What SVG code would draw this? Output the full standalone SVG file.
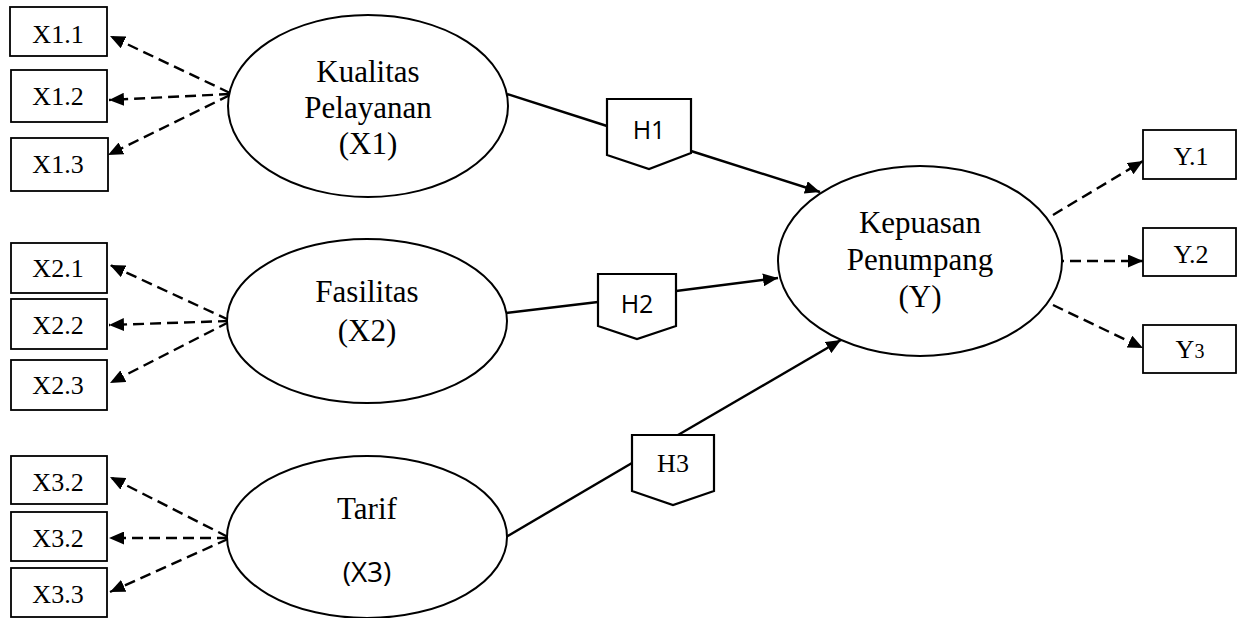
<svg xmlns="http://www.w3.org/2000/svg" width="1238" height="618" viewBox="0 0 1238 618">
<defs>
<style>
.box{fill:#fff;stroke:#000;stroke-width:1.8}
.ell{fill:#fff;stroke:#000;stroke-width:2}
.hyp{fill:#fff;stroke:#000;stroke-width:2.2}
.t{font-family:"Liberation Serif","Times New Roman",serif;fill:#000;text-anchor:middle}
.tb{font-size:26px}
.te{font-size:31px}
.s{font-family:"Open Sans","Liberation Sans",sans-serif;fill:#000;text-anchor:middle}
.dash{fill:none;stroke:#000;stroke-width:2.4;stroke-dasharray:11 6;marker-end:url(#ah)}
.solid{fill:none;stroke:#000;stroke-width:2.4}
.solida{fill:none;stroke:#000;stroke-width:2.4;marker-end:url(#ah)}
</style>
<marker id="ah" viewBox="0 0 15 13" refX="15" refY="6.5" markerWidth="15" markerHeight="13" orient="auto" markerUnits="userSpaceOnUse">
<path d="M0,0 L15,6.5 L0,13 z" fill="#000" stroke="none"/>
</marker>
</defs>
<rect width="1238" height="618" fill="#fff"/>

<g id="connectors">
<line class="dash" x1="230" y1="93" x2="110" y2="36"/>
<line class="dash" x1="230" y1="94" x2="109" y2="100"/>
<line class="dash" x1="230" y1="95" x2="108" y2="155"/>
<line class="dash" x1="229" y1="320" x2="110" y2="265"/>
<line class="dash" x1="229" y1="321" x2="109" y2="325"/>
<line class="dash" x1="229" y1="322" x2="110" y2="383"/>
<line class="dash" x1="228" y1="537" x2="110" y2="477"/>
<line class="dash" x1="228" y1="538" x2="109" y2="538"/>
<line class="dash" x1="228" y1="539" x2="110" y2="592"/>
<line class="dash" x1="1053" y1="215" x2="1143" y2="161"/>
<line class="dash" x1="1053" y1="261" x2="1143" y2="261"/>
<line class="dash" x1="1053" y1="305" x2="1143" y2="348"/>
<line class="solid" x1="507" y1="94" x2="607" y2="126"/>
<line class="solida" x1="691" y1="151" x2="820" y2="192"/>
<line class="solid" x1="506" y1="313" x2="598" y2="302"/>
<line class="solida" x1="676" y1="291" x2="778" y2="278"/>
<line class="solid" x1="506" y1="537" x2="632" y2="463"/>
<line class="solida" x1="678" y1="435" x2="841" y2="340"/>
</g>

<g id="X1.1"><rect class="box" x="10" y="7" width="97" height="49"/><text class="t tb" x="58" y="43">X1.1</text></g>
<g id="X1.2"><rect class="box" x="11" y="70" width="96" height="52"/><text class="t tb" x="58" y="105">X1.2</text></g>
<g id="X1.3"><rect class="box" x="11" y="138" width="97" height="53"/><text class="t tb" x="58" y="173">X1.3</text></g>

<g id="X2.1"><rect class="box" x="11" y="243" width="96" height="50"/><text class="t tb" x="58" y="277">X2.1</text></g>
<g id="X2.2"><rect class="box" x="11" y="299" width="96" height="50"/><text class="t tb" x="58" y="334">X2.2</text></g>
<g id="X2.3"><rect class="box" x="11" y="360" width="96" height="50"/><text class="t tb" x="58" y="394">X2.3</text></g>

<g id="X3.2a"><rect class="box" x="11" y="456" width="96" height="48"/><text class="t tb" x="58" y="491">X3.2</text></g>
<g id="X3.2b"><rect class="box" x="11" y="512" width="96" height="49"/><text class="t tb" x="58" y="547">X3.2</text></g>
<g id="X3.3"><rect class="box" x="11" y="568" width="96" height="49"/><text class="t tb" x="58" y="603">X3.3</text></g>

<g id="Y.1"><rect class="box" x="1143" y="130" width="93" height="49"/><text class="t tb" x="1191" y="165">Y.1</text></g>
<g id="Y.2"><rect class="box" x="1143" y="228" width="93" height="48"/><text class="t tb" x="1191" y="263">Y.2</text></g>
<g id="Y3"><rect class="box" x="1143" y="325" width="93" height="48"/><text class="t tb" x="1190" y="358">Y<tspan font-size="20">3</tspan></text></g>

<g id="X1"><ellipse class="ell" cx="368" cy="106" rx="140" ry="91"/>
<text class="t te" x="368" y="82">Kualitas</text>
<text class="t te" x="368" y="118">Pelayanan</text>
<text class="t te" x="368" y="154">(X1)</text></g>

<g id="X2"><ellipse class="ell" cx="367" cy="321" rx="140" ry="82"/>
<text class="t te" x="367" y="302">Fasilitas</text>
<text class="t te" x="367" y="341">(X2)</text></g>

<g id="X3"><ellipse class="ell" cx="367" cy="537" rx="140" ry="81"/>
<text class="t te" x="367" y="519">Tarif</text>
<text class="s" font-size="28" x="367" y="582">(X3)</text></g>

<g id="Y"><ellipse class="ell" cx="920" cy="261" rx="142" ry="95"/>
<text class="t te" x="920" y="233">Kepuasan</text>
<text class="t te" x="920" y="270">Penumpang</text>
<text class="t te" x="920" y="307">(Y)</text></g>

<g id="H1"><polygon class="hyp" points="607,99 691,99 691,153 649,169 607,155"/><text class="s" font-size="25" x="649" y="139">H1</text></g>
<g id="H2"><polygon class="hyp" points="598,274 676,274 676,326 637,339 598,326"/><text class="s" font-size="25" x="637" y="313">H2</text></g>
<g id="H3"><polygon class="hyp" points="632,435 714,435 714,491 673,505 632,491"/><text class="t" font-size="26" x="673" y="472">H3</text></g>
</svg>
